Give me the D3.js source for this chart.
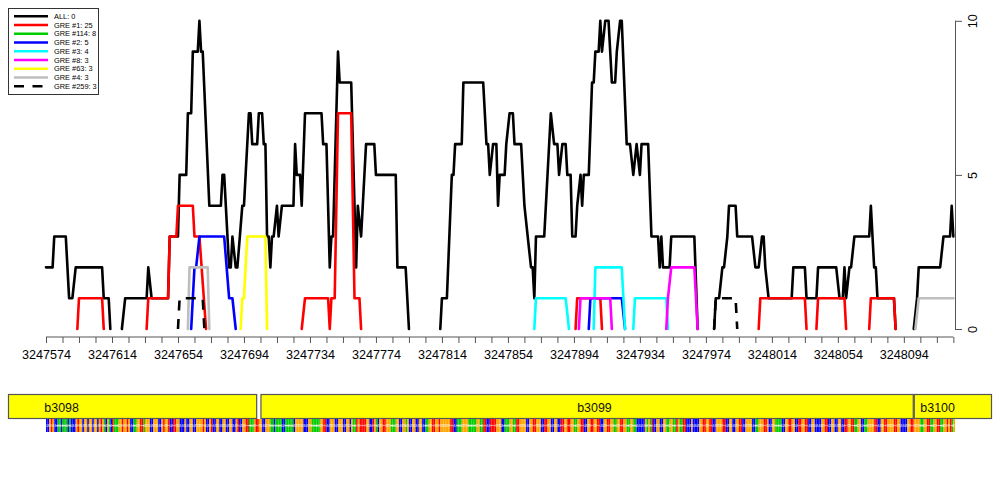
<!DOCTYPE html>
<html><head><meta charset="utf-8">
<script src="https://cdn.jsdelivr.net/npm/d3@7"></script>
<style>body{margin:0;background:#fff}svg{display:block;font-family:"Liberation Sans",Arial,Helvetica,sans-serif}</style>
</head><body><svg id="c" width="1000" height="500"></svg>
<script>
// ---------- data ----------
const START = 3247574;           // first genomic position shown
const SPAN = 551;                // number of positions shown
const xTickStep = 10;            // minor ticks every 10 bp
const xLabelStep = 40;           // labelled every 40 bp
const yTicks = [0, 5, 10];

const legendLabels = ["ALL: 0","GRE #1: 25","GRE #114: 8","GRE #2: 5","GRE #3: 4","GRE #8: 3","GRE #63: 3","GRE #4: 3","GRE #259: 3"];

// vertices [offset from START, count]; each inner list is one drawn run
const allRuns = [
 [[0,2],[4,2],[5,3],[12,3],[14,1],[16,1],[18,2],[34,2],[35,1],[38,1],[39,0]],
 [[46,0],[48,1],[61,1],[62,2],[64,1],[74,1],[75,3],[80,3],[81,5],[85,5],[86,7],[88,7],[89,9],[92,9],[93,10],[94,9],[95,9],[99,4],[106,4],[107,5],[108,5],[111,2],[112,2],[113,3],[115,2],[116,2],[119,4],[120,4],[123,7],[124,7],[125,6],[128,6],[129,7],[131,7],[132,6],[133,6],[134,3],[135,3],[136,2],[137,3],[138,3],[140,4],[141,3],[143,4],[150,4],[151,6],[152,5],[154,5],[155,4],[157,7],[167,7],[168,6],[170,6],[172,2],[173,3],[174,3],[177,9],[178,8],[185,8],[188,2],[189,4],[191,3],[192,4],[194,6],[199,6],[200,5],[212,5],[213,2],[218,2],[220,0]],
 [[239,0],[240,1],[243,1],[246,5],[247,5],[248,6],[252,6],[253,8],[265,8],[267,6],[268,6],[269,5],[271,6],[273,6],[274,4],[275,5],[278,5],[279,6],[281,7],[283,7],[284,6],[288,6],[290,4],[292,3],[294,2],[295,2],[296,1],[297,3],[302,3],[304,5],[306,7],[308,6],[310,6],[311,5],[313,6],[315,6],[316,5],[318,5],[319,3],[321,3],[322,4],[324,5],[325,4],[326,5],[329,5],[331,8],[332,8],[333,9],[335,9],[336,10],[337,9],[339,10],[341,10],[343,8],[345,8],[346,9],[348,10],[349,10],[352,6],[354,6],[356,5],[358,6],[360,5],[361,6],[365,6],[367,3],[371,3],[372,2],[373,3],[374,2],[378,2],[379,3],[393,3],[395,0]],
 [[405,0],[406,1],[408,1],[410,2],[411,2],[413,3],[414,4],[418,4],[419,3],[428,3],[430,2],[432,2],[434,3],[435,3],[436,2],[438,1],[452,1],[453,2],[460,2],[461,1],[467,1],[468,2],[479,2],[481,1],[483,1],[484,2],[485,1],[487,2],[488,2],[490,3],[499,3],[500,4],[502,2],[503,2],[504,1],[514,1],[515,0]],
 [[526,0],[528,1],[529,2],[542,2],[544,3],[548,3],[549,4],[550,3]]
];
const gre1Runs = [
 [[19,0],[20,1],[34,1],[35,0]],
 [[61,0],[62,1],[74,1],[75,3],[79,3],[80,4],[89,4],[90,3],[93,3],[97,0]],
 [[155,0],[157,1],[171,1],[172,0],[173,1],[175,1],[177,7],[185,7],[187,1],[190,1],[191,0]],
 [[321,0],[322,1],[336,1],[337,0]],
 [[432,0],[433,1],[460,1],[461,0]],
 [[467,0],[468,1],[484,1],[485,0]],
 [[499,0],[500,1],[514,1],[515,0]]
];
const gre114Runs = [];   // not visible in the picture (hidden under other lines)
const gre2Runs = [
 [[88,0],[90,2],[91,2],[93,3],[108,3],[111,1],[113,1],[115,0]],
 [[329,0],[330,1],[349,1],[351,0]]
];
const gre3Runs = [
 [[296,0],[297,1],[315,1],[317,0]],
 [[332,0],[333,2],[349,2],[351,0]],
 [[356,0],[357,1],[376,1],[377,0]]
];
const gre8Runs = [
 [[323,0],[324,1],[342,1],[343,0]],
 [[376,0],[377,1],[379,2],[393,2],[395,0]]
];
const gre63Runs = [
 [[118,0],[119,1],[120,1],[122,3],[133,3],[134,0]]
];
const gre4Runs = [
 [[86,0],[87,2],[98,2],[99,0]],
 [[527,0],[529,1],[550,1]]
];
const gre259Runs = [
 [[80,0],[81,1],[95,1],[96,0]],
 [[405,0],[406,1],[418,1],[419,0]]
];

const geneNames  = ["b3098","b3099","b3100"];
const geneStarts = [3247500, 3247704, 3248100];
const geneEnds   = [3247702, 3248100, 3248200];
const geneLabelPos = [3247573, 3247896, 3248104];

const sequence =
 "CCGTGCCAACAAACACCCGTGGCGGCGGCGGCGTGACGACTAAAGGTGGTGCCAAGGTTAGGGCCGGGCCGTGGTCCTTGGCCCGCCGGCCGGGGTGCCGTCCGGCCGGCCGGCCGTCCGGTTAAAGTTGGCCGGGAACAAAACCAAAAACGGGGGCCCGGAAAAAGGTTCCGGGCCGGGCCG" +
 "GCGAATGTTTTGGCCTGACGGTTGGGAAAGGCCGGAGCCGGCCGGCCAAGGTTGGTGGGGGGTTCCAAAGGGGAAAAAGGAATTCCTTTTGGGCCAAAGGAATTGGGGCCGGTTGGGCCTTGGCCGGCCTTGGTTGGAAGGTTCCGGTTGGTTCCGGTTGGAAGGTTGGAAGGAACCCCCGAG" +
 "ATCCGGCCGGAAGGAATGAATTCCCGCCCCGGTTGGTTCCGGGGTTCCGGCCGGTTCCGGGGCCAAGGGTTGCCGGAAAACCGGTTGGCCTTGGTTCCGGCCCCGGTTCCGGCCGGCCTTGGTTAAGGCCAAGGGGTTCCGGTTGGGGTTGGCCCCGGTTGGGGAAGGTTAAGGTTAAGGTGTAGT";

// ---------- styles ----------
const seriesColors = ["#000000","#ff0000","#00cd00","#0000ff","#00ffff","#ff00ff","#ffff00","#bebebe","#000000"];
const seriesDash   = [null,null,null,null,null,null,null,null,"10,8.5"];
const baseColors = {A:"#00cc00", C:"#0000ff", G:"#ffa500", T:"#ff0000"};

// ---------- scales ----------
const svg = d3.select("#c");
const x = d3.scaleLinear().domain([START, START + SPAN]).range([46, 955]);
const y = d3.scaleLinear().domain([0, 10]).range([329, 20.8]);

// ---------- lines ----------
const allSeries = [allRuns, gre1Runs, gre114Runs, gre2Runs, gre3Runs, gre8Runs, gre63Runs, gre4Runs, gre259Runs];
const line = d3.line().x(d => x(START + d[0])).y(d => y(d[1]));
const plot = svg.append("g");
allSeries.forEach((runs, i) => {
  plot.selectAll(null).data(runs).enter().append("path")
    .attr("d", line)
    .attr("fill", "none")
    .attr("stroke", seriesColors[i])
    .attr("stroke-width", 2.6)
    .attr("stroke-linejoin", "round")
    .attr("stroke-linecap", seriesDash[i] ? "butt" : "round")
    .attr("stroke-dasharray", seriesDash[i]);
});

// ---------- x axis ----------
const xTicks = d3.range(START, START + SPAN, xTickStep);
const xAxis = d3.axisBottom(x).tickValues(xTicks).tickSize(6).tickSizeOuter(0)
  .tickFormat(d => ((d - START) % xLabelStep === 0) ? String(d) : "");
const gx = svg.append("g").attr("transform", "translate(0,337)").call(xAxis);
gx.select(".domain").remove();
gx.append("line").attr("x1", x(xTicks[0])).attr("x2", x(xTicks[xTicks.length - 1]))
  .attr("stroke", "#555").attr("stroke-width", 1);
gx.selectAll(".tick line").attr("stroke", "#555");
gx.selectAll(".tick text").attr("y", 22).attr("dy", null).attr("fill", "#000")
  .style("font-size", "12.6px").style("font-family", '"Liberation Sans",Arial,sans-serif');

// ---------- y axis (right) ----------
const yAxis = d3.axisRight(y).tickValues(yTicks).tickSize(7).tickSizeOuter(0);
const gy = svg.append("g").attr("transform", "translate(955,0)").call(yAxis);
gy.select(".domain").attr("stroke", "#555").attr("d", `M0.5,${y(0)}V${y(10)}`);
gy.selectAll(".tick line").attr("stroke", "#555");
gy.selectAll(".tick text").attr("x", null).attr("dy", null)
  .attr("transform", "translate(22,0) rotate(-90)")
  .attr("text-anchor", "middle").attr("fill", "#000")
  .style("font-size", "12.6px").style("font-family", '"Liberation Sans",Arial,sans-serif');

// ---------- legend ----------
const lg = svg.append("g");
lg.append("rect").attr("x", 8.5).attr("y", 8.5).attr("width", 90).attr("height", 86)
  .attr("fill", "#fff").attr("stroke", "#333").attr("stroke-width", 1);
legendLabels.forEach((lab, i) => {
  const yy = 16.3 + i * 8.75;
  lg.append("line").attr("x1", 14).attr("x2", 48).attr("y1", yy).attr("y2", yy)
    .attr("stroke", seriesColors[i]).attr("stroke-width", 2.6)
    .attr("stroke-dasharray", seriesDash[i]);
  lg.append("text").attr("x", 54).attr("y", yy).attr("dy", "0.36em")
    .style("font-size", "7.4px").text(lab);
});

// ---------- genes ----------
const gg = svg.append("g");
geneNames.forEach((g, i) => {
  const x0 = Math.max(8, x(geneStarts[i])), x1 = Math.min(992, x(geneEnds[i]));
  gg.append("rect").attr("x", x0 + 0.5).attr("y", 394.5).attr("width", x1 - x0 - 1).attr("height", 24)
    .attr("fill", "#ffff00").attr("stroke", "#555").attr("stroke-width", 1.2);
  gg.append("text").attr("x", x(geneLabelPos[i])).attr("y", 411.5)
    .style("font-size", "12.4px").attr("fill", "#111").text(g);
});

// ---------- sequence strip ----------
const seqG = svg.append("g");
const bases = sequence.slice(0, SPAN).split("");
seqG.selectAll("rect").data(bases).enter().append("rect")
  .attr("x", (d, i) => x(START + i)).attr("y", 419)
  .attr("width", (d, i) => x(START + i + 1) - x(START + i)).attr("height", 13)
  .attr("fill", d => baseColors[d]);
seqG.selectAll("text").data(bases).enter().append("text")
  .attr("transform", (d, i) => `translate(${x(START + i + 0.5) + 1},425.5) rotate(-90)`)
  .attr("text-anchor", "middle").style("font-size", "3.5px").attr("fill", "#fff").attr("opacity", 0.85)
  .text(d => d);
</script></body></html>
